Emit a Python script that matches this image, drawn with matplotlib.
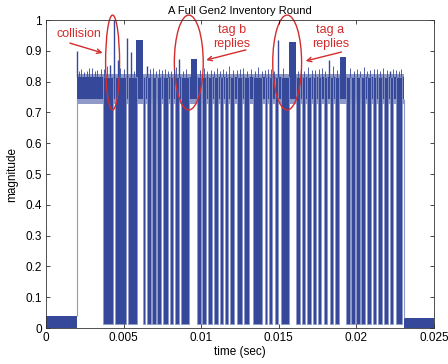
import matplotlib
matplotlib.use("Agg")
import matplotlib.pyplot as plt
from matplotlib.patches import Ellipse

plt.rcParams['font.family'] = ['Liberation Sans', 'DejaVu Sans']

blue = "#36489a"
light = "#8f9ac8"
red = "#d42c2c"

# reader off: quiet floor before and after the round
quiet_t = [[0.0, 0.00199], [0.02308, 0.025]]
quiet_top = [0.038, 0.034]

# carrier on, unmodulated band
band_t = [0.00199, 0.02308]
band_lo, band_hi = 0.742, 0.815
fuzz_lo, fuzz_hi = 0.728, 0.826

# modulated bursts (sec)
burst_start = [0.003654, 0.004423, 0.005256, 0.006218, 0.006538, 0.006859, 0.007179,
               0.007564, 0.008013, 0.008333, 0.008718, 0.009744, 0.010064, 0.010449,
               0.010833, 0.011218, 0.011538, 0.011859, 0.012308, 0.012756, 0.013333,
               0.014103, 0.014359, 0.014744, 0.015128, 0.016090, 0.016474, 0.016795,
               0.017179, 0.017500, 0.017885, 0.018269, 0.018590, 0.019359, 0.019679,
               0.020000, 0.020321, 0.020705, 0.021090, 0.021410, 0.021795, 0.022179,
               0.022564]
burst_end = [0.004295, 0.005128, 0.005833, 0.006410, 0.006795, 0.007115, 0.007436,
             0.007885, 0.008205, 0.008590, 0.009231, 0.010000, 0.010321, 0.010705,
             0.011090, 0.011410, 0.011731, 0.012115, 0.012628, 0.013077, 0.013910,
             0.014231, 0.014551, 0.014936, 0.015641, 0.016346, 0.016667, 0.017051,
             0.017372, 0.017692, 0.018077, 0.018462, 0.018910, 0.019615, 0.019936,
             0.020256, 0.020577, 0.020962, 0.021282, 0.021667, 0.022051, 0.022372,
             0.022949]
burst_floor = 0.012

# tall single spikes
spike_t = [0.00199, 0.00410, 0.00436, 0.00462, 0.00519, 0.00545, 0.00651,
           0.00859, 0.01494, 0.01821, 0.02218]
spike_h = [0.900, 0.855, 1.000, 0.870, 0.940, 0.895, 0.850,
           0.875, 0.935, 0.870, 0.835]

# tag reply blocks with higher level
block_start = [0.00583, 0.00936, 0.01564, 0.01897]
block_end = [0.00622, 0.00974, 0.01609, 0.01936]
block_h = [0.935, 0.875, 0.930, 0.880]

# small spikes on top of the band
grass_t = [0.00212, 0.00225, 0.00244, 0.00262, 0.00280, 0.00298, 0.00315, 0.00331,
           0.00352, 0.00372, 0.00395, 0.00478, 0.00502, 0.00570, 0.00602, 0.00672,
           0.00690, 0.00708, 0.00725, 0.00746, 0.00768, 0.00787, 0.00805, 0.00822,
           0.00840, 0.00880, 0.00902, 0.00990, 0.01015, 0.01038, 0.01060, 0.01082,
           0.01102, 0.01120, 0.01140, 0.01160, 0.01182, 0.01205, 0.01230, 0.01250,
           0.01270, 0.01296, 0.01322, 0.01344, 0.01365, 0.01390, 0.01412, 0.01430,
           0.01450, 0.01470, 0.01530, 0.01625, 0.01642, 0.01665, 0.01690, 0.01712,
           0.01735, 0.01758, 0.01780, 0.01800, 0.01852, 0.01875, 0.01960, 0.01982,
           0.02005, 0.02025, 0.02048, 0.02070, 0.02090, 0.02112, 0.02135, 0.02155,
           0.02172, 0.02200, 0.02235, 0.02255, 0.02272, 0.02290]
grass_h = [0.835, 0.840, 0.832, 0.835, 0.843, 0.845, 0.836, 0.838,
           0.841, 0.842, 0.850, 0.845, 0.840, 0.835, 0.838, 0.840,
           0.845, 0.834, 0.840, 0.837, 0.842, 0.833, 0.836, 0.841,
           0.848, 0.836, 0.840, 0.837, 0.843, 0.835, 0.838, 0.833,
           0.845, 0.836, 0.840, 0.834, 0.850, 0.837, 0.838, 0.842,
           0.844, 0.833, 0.840, 0.836, 0.846, 0.835, 0.838, 0.841,
           0.842, 0.834, 0.845, 0.836, 0.840, 0.833, 0.846, 0.837,
           0.838, 0.842, 0.844, 0.835, 0.852, 0.838, 0.845, 0.834,
           0.840, 0.836, 0.846, 0.833, 0.838, 0.841, 0.842, 0.835,
           0.845, 0.837, 0.840, 0.838, 0.834, 0.840]

fig = plt.figure(figsize=(4.48, 3.64), dpi=100)
ax = fig.add_axes([0.1027, 0.0989, 0.8660, 0.8461])

for (t0, t1), top in zip(quiet_t, quiet_top):
    ax.fill_between([t0, t1], 0, top, color=blue, lw=0)

ax.fill_between(band_t, fuzz_lo, fuzz_hi, color=blue, alpha=0.55, lw=0)
ax.fill_between(band_t, band_lo, band_hi, color=blue, lw=0)

widths = [e - s for s, e in zip(burst_start, burst_end)]
ax.bar(burst_start, [band_hi - burst_floor] * len(widths), width=widths,
       bottom=burst_floor, align='edge', color=blue, edgecolor=light, linewidth=0.6)

bw = [e - s for s, e in zip(block_start, block_end)]
ax.bar(block_start, [h - band_hi for h in block_h], width=bw, bottom=band_hi,
       align='edge', color=blue, linewidth=0)

ax.vlines(spike_t, band_hi, spike_h, color=blue, lw=1.0)
ax.vlines(grass_t, band_hi, grass_h, color=blue, lw=0.6)
ax.vlines([band_t[0], band_t[1]], [quiet_top[0], quiet_top[1]], band_lo, color=light, lw=0.8)

# annotations
for cx, w in [(0.00429, 0.0009), (0.0092, 0.00186), (0.01554, 0.00186)]:
    ax.add_patch(Ellipse((cx, 0.862), w, 0.308, fill=False, ec=red, lw=1.0, clip_on=False))

ax.text(0.00212, 0.955, "collision", color=red, fontsize=9, ha='center', va='center')
ax.text(0.01199, 0.945, "tag b\nreplies", color=red, fontsize=9, ha='center', va='center',
        linespacing=1.25)
ax.text(0.01833, 0.945, "tag a\nreplies", color=red, fontsize=9, ha='center', va='center',
        linespacing=1.25)

arrows = [((0.00154, 0.925), (0.00365, 0.893)),
          ((0.01288, 0.903), (0.01032, 0.870)),
          ((0.01904, 0.896), (0.01673, 0.867))]
for tail, tip in arrows:
    ax.annotate("", xy=tip, xytext=tail,
                arrowprops=dict(arrowstyle="->", color=red, lw=1.0,
                                shrinkA=0, shrinkB=0, mutation_scale=8))

ax.set_xlim(0, 0.025)
ax.set_ylim(0, 1)
ax.set_xticks([0, 0.005, 0.01, 0.015, 0.02, 0.025])
ax.set_xticklabels(["0", "0.005", "0.01", "0.015", "0.02", "0.025"])
ax.set_yticks([i / 10 for i in range(11)])
ax.set_yticklabels(["0", "0.1", "0.2", "0.3", "0.4", "0.5", "0.6", "0.7", "0.8", "0.9", "1"])
ax.tick_params(direction='in', top=True, right=True, length=3, width=0.5,
               labelsize=8.5, pad=3)
for s in ax.spines.values():
    s.set_linewidth(0.6)
    s.set_color("#333333")

ax.set_title("A Full Gen2 Inventory Round", fontsize=8, pad=4)
ax.set_xlabel("time (sec)", fontsize=8.5, labelpad=1)
ax.set_ylabel("magnitude", fontsize=8.5, labelpad=5)

fig.savefig("out.png", dpi=100)
